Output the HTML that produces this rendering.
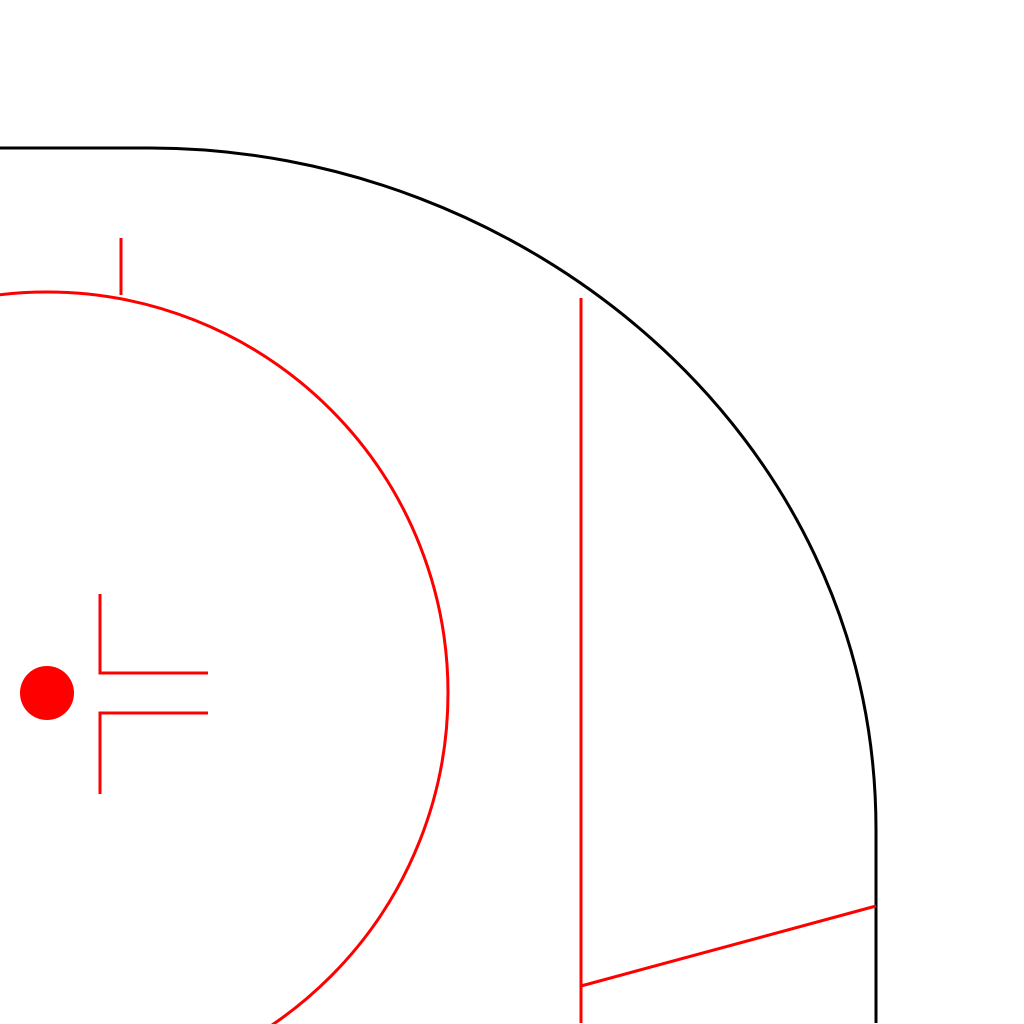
<!DOCTYPE html>
<html><head><meta charset="utf-8"><style>html,body{margin:0;padding:0;background:#fff;width:1024px;height:1024px;overflow:hidden}svg{display:block}</style></head>
<body>
<svg width="1024" height="1024" viewBox="0 0 1024 1024" xmlns="http://www.w3.org/2000/svg">
  <path d="M0 148 L150 148 C520 148 876 430 876 830 L876 1023" fill="none" stroke="#000" stroke-width="3"/>
  <circle cx="47" cy="693" r="401" fill="none" stroke="#f00" stroke-width="3"/>
  <line x1="121" y1="238" x2="121" y2="295" stroke="#f00" stroke-width="3"/>
  <circle cx="47" cy="693" r="27" fill="#f00"/>
  <path d="M100 594 L100 673 L208 673" fill="none" stroke="#f00" stroke-width="3"/>
  <path d="M100 794 L100 713 L208 713" fill="none" stroke="#f00" stroke-width="3"/>
  <line x1="581" y1="298" x2="581" y2="1023" stroke="#f00" stroke-width="3"/>
  <line x1="581" y1="986" x2="876" y2="906" stroke="#f00" stroke-width="3"/>
</svg>
</body></html>
